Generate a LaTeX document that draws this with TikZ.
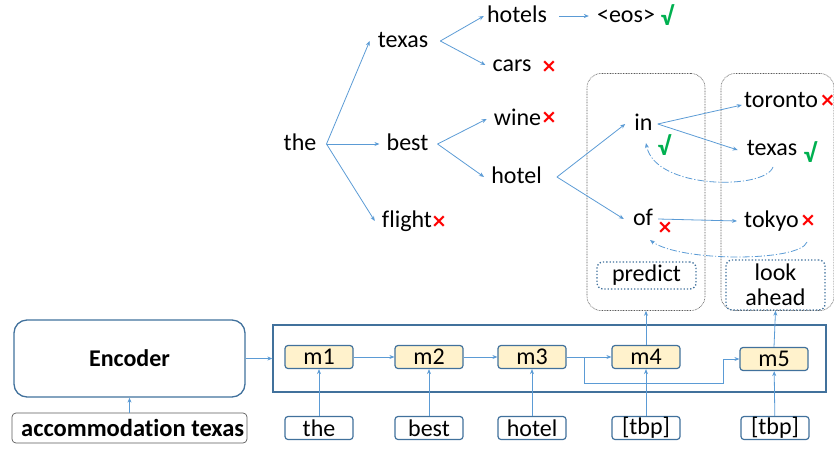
\documentclass[tikz,border=0pt]{standalone}
\usepackage{fontspec}
\setmainfont{Carlito}[Ligatures=NoCommon]
\newfontfamily\symf{DejaVu Sans}
\usetikzlibrary{arrows.meta}
\definecolor{arr}{RGB}{91,155,213}
\definecolor{bord}{RGB}{65,113,156}
\definecolor{mfill}{RGB}{255,242,204}
\definecolor{okgreen}{RGB}{0,176,80}
\definecolor{dotgray}{RGB}{90,90,90}
\begin{document}
\begin{tikzpicture}[x=1pt,y=-1pt,
  word/.style={font=\fontsize{24}{26}\selectfont, inner xsep=7pt, inner ysep=0pt, text height=17pt, text depth=5pt},
  bad/.style={font=\symf\bfseries\fontsize{19}{22}\selectfont, text=red, inner sep=0pt},
  good/.style={font=\bfseries\fontsize{26}{28}\selectfont, text=okgreen, inner sep=0pt},
  arrow/.style={draw=arr, line width=0.8pt, -{Stealth[length=5pt,width=4pt]}},
  back/.style={draw=arr, line width=0.8pt, dash pattern=on 7pt off 2pt on 1.2pt off 2pt, -{Stealth[length=5pt,width=4pt]}},
  graybox/.style={draw=dotgray, line width=0.6pt, dash pattern=on 0.8pt off 0.8pt, rounded corners=14pt},
  bluedot/.style={draw=bord, line width=1.3pt, dotted, rounded corners=6pt},
  mbox/.style={draw=bord, fill=mfill, line width=1.2pt, rounded corners=3pt, minimum width=68pt, minimum height=23pt, inner sep=0pt, font=\fontsize{24}{26}\selectfont},
  tbox/.style={draw=bord, fill=white, line width=1.2pt, rounded corners=3pt, minimum width=68pt, minimum height=23pt, inner sep=0pt, font=\fontsize{24}{26}\selectfont},
]
\useasboundingbox (0,0) rectangle (834,450);

% gray dotted containers
\node[graybox, minimum width=118pt, minimum height=237pt] (pbig) at (646,192) {};
\node[graybox, minimum width=113pt, minimum height=237pt] (lbig) at (777.5,192) {};

% tree words
\node[word] (the) at (300,144) {the};
\node[word] (texas) at (403,41) {texas};
\node[word] (best) at (407.5,144) {best};
\node[word] (flight) at (407,221) {flight};
\node[word] (hotels) at (517,16) {hotels};
\node[word] (cars) at (512,65) {cars};
\node[word] (wine) at (517.5,119) {wine};
\node[word] (hotel) at (516.5,177) {hotel};
\node[word] (eos) at (626,16) {<eos>};
\node[word] (in) at (643.5,124) {in};
\node[word] (of) at (643,219) {of};
\node[word] (toronto) at (781,101) {toronto};
\node[word] (texasb) at (772,149) {texas};
\node[word] (tokyo) at (771.5,221) {tokyo};

% marks
\node[good] (k1) at (667,15) {√};
\node[bad] (x1) at (549,67) {×};
\node[bad] (x2) at (549,118) {×};
\node[bad] (x3) at (439,222) {×};
\node[good] (k2) at (664,145) {√};
\node[bad] (x4) at (665,228) {×};
\node[bad] (x5) at (827.5,101) {×};
\node[good] (k3) at (810,152) {√};
\node[bad] (x6) at (808,221) {×};

% tree arrows
\draw[arrow] ([xshift=3pt]the.east) -- ([xshift=-1pt]texas.west);
\draw[arrow] ([xshift=3pt]the.east) -- (best.west);
\draw[arrow] ([xshift=3pt]the.east) -- (flight.west);
\draw[arrow] ([xshift=5pt]texas.east) -- ([xshift=4pt]hotels.west);
\draw[arrow] ([xshift=5pt]texas.east) -- (cars.west);
\draw[arrow] ([xshift=2pt]best.east) -- (wine.west);
\draw[arrow] ([xshift=2pt]best.east) -- (hotel.west);
\draw[arrow] ([xshift=5pt]hotels.east) -- ([xshift=-1pt]eos.west);
\draw[arrow] ([xshift=8pt]hotel.east) -- ([xshift=-2pt]in.west);
\draw[arrow] ([xshift=8pt]hotel.east) -- ([xshift=-2pt]of.west);
\draw[arrow] ([xshift=-2pt]in.east) -- ([xshift=5pt,yshift=-4pt]toronto.west);
\draw[arrow] ([xshift=-2pt]in.east) -- ([xshift=-2pt,yshift=-1pt]texasb.west);
\draw[arrow] ([xshift=-2pt]of.east) -- (tokyo.west);

% look-back dash-dot arrows
\coordinate (b1s) at (773,167);
\coordinate (b1e) at (646,143);
\coordinate (b2s) at (807,242);
\coordinate (b2e) at (650,240);
\draw[back] (b1s) .. controls (765,190) and (655,190) .. (b1e);
\draw[back] (b2s) .. controls (800,262) and (680,262) .. (b2e);

% predict / look ahead
\node[bluedot, minimum width=99pt, minimum height=27pt, inner sep=0pt, font=\fontsize{24}{26}\selectfont] (pred) at (646.5,275.5) {predict};
\node[bluedot, minimum width=99pt, minimum height=50pt, inner sep=0pt, align=center, font=\fontsize{24}{25}\selectfont] (look) at (775.5,285) {look\\ahead};

% encoder part
\node[draw=bord, line width=1.3pt, rounded corners=13pt, minimum width=231pt, minimum height=77pt, font=\bfseries\fontsize{24}{26}\selectfont] (enc) at (129.5,358.5) {Encoder};
\node[draw=dotgray, line width=0.7pt, rounded corners=4pt, minimum width=235pt, minimum height=30pt, inner sep=0pt] (acc) at (129.5,428) {};
\node[font=\bfseries\fontsize{24.5}{26}\selectfont, inner sep=0pt, anchor=west] (acct) at (21,428) {accommodation texas};
\node[draw=bord, line width=1.3pt, minimum width=553pt, minimum height=67pt] (big) at (549.5,358.5) {};

\node[mbox] (m1) at (319,357) {m1};
\node[mbox] (m2) at (429,357) {m2};
\node[mbox] (m3) at (532,357) {m3};
\node[mbox] (m4) at (646,357) {m4};
\node[mbox] (m5) at (774,359) {m5};

\node[tbox] (t1) at (319,428) {the};
\node[tbox] (t2) at (429,428) {best};
\node[tbox] (t3) at (532,428) {hotel};
\node[tbox] (t4) at (646,428) {[tbp]};
\node[tbox] (t5) at (775,428) {[tbp]};

\draw[arrow] (acc.north) -- (enc.south);
\draw[arrow] (enc.east) -- (big.west);
\draw[arrow] (m1) -- (m2);
\draw[arrow] (m2) -- (m3);
\draw[arrow] (m3) -- (m4);
\draw[arrow] (m3.east) -- ++(18,0) |- (723,383) |- (m5.west);
\draw[arrow] (t1) -- (m1);
\draw[arrow] (t2) -- (m2);
\draw[arrow] (t3) -- (m3);
\draw[arrow] (t4) -- (m4);
\draw[arrow] (t5) -- (m5);
\draw[arrow] (m4.north) -- (pbig.south);
\draw[arrow] (m5.north) -- (look.south);
\end{tikzpicture}
\end{document}
